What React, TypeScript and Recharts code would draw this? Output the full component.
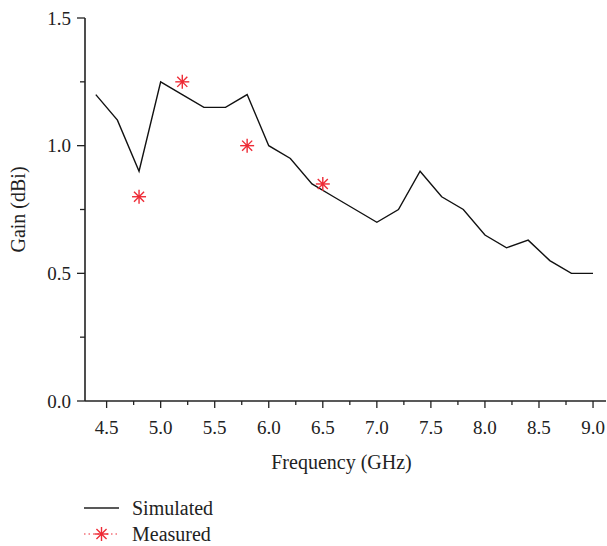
import React from "react";
import { ComposedChart, Line, Scatter, XAxis, YAxis, Label } from "recharts";

// simulated gain, every 0.2 GHz
const simFreq = [
  4.4, 4.6, 4.8, 5.0, 5.2, 5.4, 5.6, 5.8, 6.0, 6.2, 6.4, 6.6, 6.8, 7.0, 7.2,
  7.4, 7.6, 7.8, 8.0, 8.2, 8.4, 8.6, 8.8, 9.0,
];
const simGain = [
  1.2, 1.1, 0.9, 1.25, 1.2, 1.15, 1.15, 1.2, 1.0, 0.95, 0.85, 0.8, 0.75, 0.7,
  0.75, 0.9, 0.8, 0.75, 0.65, 0.6, 0.63, 0.55, 0.5, 0.5,
];

// measured points
const measFreq = [4.8, 5.2, 5.8, 6.5];
const measGain = [0.8, 1.25, 1.0, 0.85];

// axis ticks (major ones get labels)
const xTicks = [
  4.5, 4.75, 5.0, 5.25, 5.5, 5.75, 6.0, 6.25, 6.5, 6.75, 7.0, 7.25, 7.5, 7.75,
  8.0, 8.25, 8.5, 8.75, 9.0,
];
const yTicks = [0, 0.25, 0.5, 0.75, 1.0, 1.25, 1.5];

const simulated = simFreq.map((f, i) => ({ f, g: simGain[i] }));
const measured = measFreq.map((f, i) => ({ f, g: measGain[i] }));

const FONT = '"Liberation Serif", "Times New Roman", serif';
const AXIS = "#222";
const RED = "#ee2b36";

const isMajor = (v: number) => Math.abs(v * 2 - Math.round(v * 2)) < 1e-6;

const XTick = (props: any) => {
  const { x, y, payload } = props;
  const v = payload.value as number;
  const major = isMajor(v);
  return (
    <g>
      <line x1={x} x2={x} y1={y} y2={y + (major ? 7 : 4)} stroke={AXIS} strokeWidth={1.3} />
      {major && (
        <text x={x} y={y + 33} textAnchor="middle" fontFamily={FONT} fontSize={19} fill="#222">
          {v.toFixed(1)}
        </text>
      )}
    </g>
  );
};

const YTick = (props: any) => {
  const { x, y, payload } = props;
  const v = payload.value as number;
  const major = isMajor(v);
  return (
    <g>
      <line x1={x} x2={x - (major ? 8 : 5)} y1={y} y2={y} stroke={AXIS} strokeWidth={1.3} />
      {major && (
        <text x={x - 14} y={y} dy="0.35em" textAnchor="end" fontFamily={FONT} fontSize={19} fill="#222">
          {v.toFixed(1)}
        </text>
      )}
    </g>
  );
};

const Star = ({ cx, cy, r = 7 }: { cx: number; cy: number; r?: number }) => {
  const d = r * 0.72;
  return (
    <g stroke={RED} strokeWidth={1.4}>
      <line x1={cx} y1={cy - r} x2={cx} y2={cy + r} />
      <line x1={cx - r} y1={cy} x2={cx + r} y2={cy} />
      <line x1={cx - d} y1={cy - d} x2={cx + d} y2={cy + d} />
      <line x1={cx - d} y1={cy + d} x2={cx + d} y2={cy - d} />
      <circle cx={cx} cy={cy} r={1.6} fill={RED} stroke="none" />
    </g>
  );
};

const LegendBox = () => (
  <svg width={200} height={50} style={{ position: "absolute", left: 80, top: 494 }}>
    <line x1={4} x2={39} y1={14} y2={14} stroke="#222" strokeWidth={1.5} />
    <text x={52} y={14} dy="0.35em" fontFamily={FONT} fontSize={20} fill="#222">
      Simulated
    </text>
    <line x1={4} x2={39} y1={40} y2={40} stroke={RED} strokeWidth={1.2} strokeDasharray="1.5 3" />
    <Star cx={21.5} cy={40} />
    <text x={52} y={40} dy="0.35em" fontFamily={FONT} fontSize={20} fill="#222">
      Measured
    </text>
  </svg>
);

export default function App() {
  return (
    <div style={{ position: "absolute", left: 0, top: 0, width: 607, height: 546, background: "#fff" }}>
      <ComposedChart width={607} height={546} margin={{ top: 18, right: 1, left: 0, bottom: 85 }}>
        <XAxis
          dataKey="f"
          type="number"
          domain={[4.3, 9.12]}
          ticks={xTicks}
          interval={0}
          tickSize={0}
          tickMargin={0}
          tick={<XTick />}
          height={60}
          stroke={AXIS}
          strokeWidth={1.6}
          allowDataOverflow
        >
          <Label
            value="Frequency (GHz)"
            position="insideBottom"
            offset={-8}
            dx={-4}
            fontFamily={FONT}
            fontSize={20}
            fill="#222"
          />
        </XAxis>
        <YAxis
          type="number"
          domain={[0, 1.5]}
          ticks={yTicks}
          interval={0}
          tickSize={0}
          tickMargin={0}
          tick={<YTick />}
          width={85}
          stroke={AXIS}
          strokeWidth={1.6}
          allowDataOverflow
        >
          <Label
            value="Gain (dBi)"
            angle={-90}
            position="insideLeft"
            offset={18}
            textAnchor="middle"
            fontFamily={FONT}
            fontSize={20}
            fill="#222"
          />
        </YAxis>
        <Line
          data={simulated}
          dataKey="g"
          type="linear"
          stroke="#111"
          strokeWidth={1.4}
          dot={false}
          activeDot={false}
          isAnimationActive={false}
        />
        <Scatter
          data={measured}
          dataKey="g"
          shape={(p: any) => <Star cx={p.cx} cy={p.cy} />}
          isAnimationActive={false}
        />
      </ComposedChart>
      <LegendBox />
    </div>
  );
}
